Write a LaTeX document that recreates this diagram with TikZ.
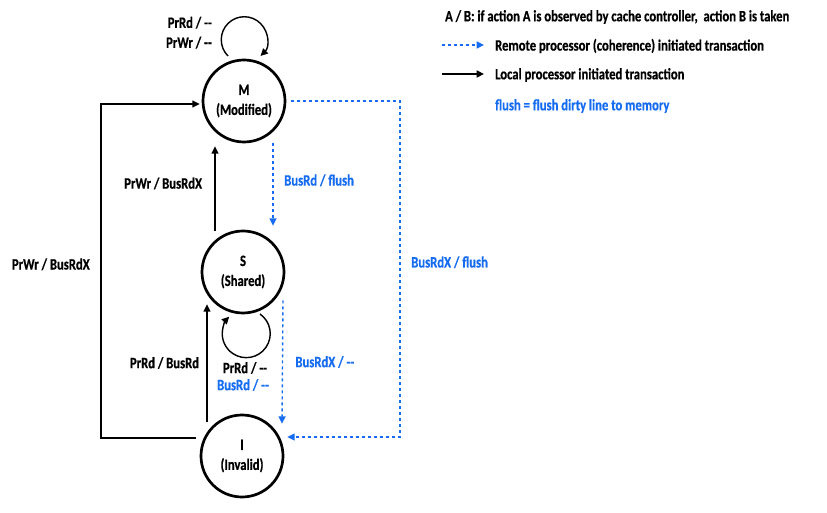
\documentclass[tikz,border=0pt]{standalone}
\usepackage{fontspec}
\setmainfont{Carlito}[FakeStretch=0.8,BoldFeatures={FakeBold=0.6}]
\usetikzlibrary{arrows.meta,calc}

\definecolor{busblue}{RGB}{22,108,240}
\tikzset{
  every node/.style={font=\bfseries\fontsize{13.5}{17}\selectfont},
  state/.style={circle,draw,line width=2.3pt,minimum size=24.6mm,
    inner sep=0pt,align=center},
  local/.style={draw=black,line width=1.2pt,
    -{Triangle[length=2.2mm,width=2.1mm]}},
  remote/.style={draw=busblue,line width=1.2pt,
    dash pattern=on 0.9mm off 0.9mm,
    -{Triangle[length=2.2mm,width=2.1mm]}},
  remotetxt/.style={text=busblue},
}

\begin{document}
\begin{tikzpicture}[x=0.3mm,y=0.3mm]
  \useasboundingbox (0,0) rectangle (827,512);

  % states
  \node[state] (M) at (244,411) {M\\(Modified)};
  \node[state] (S) at (243,240) {S\\(Shared)};
  \node[state] (I) at (242,56) {I\\(Invalid)};

  % self loops
  \draw[local] ([shift={(-16,45)}]M.center)
    arc[start angle=225,end angle=-45,radius=23];
  \node[anchor=east,align=right] (mloop) at ($(M.north)+(-28,26)$)
    {PrRd / {-}{-}\\PrWr / {-}{-}};
  \draw[local] ([shift={(17,-42)}]S.center)
    arc[start angle=55,end angle=-225,radius=24];
  \node (sloopa) at ($(S.center)+(2,-96)$) {PrRd / {-}{-}};
  \node[remotetxt] (sloopb) at ($(S.center)+(0,-113)$) {BusRd / {-}{-}};

  % S <-> M
  \draw[local] ($(S.north)+(-28,-1)$) -- node[pos=0.56,left=2.5mm]
    {PrWr / BusRdX} ($(M.south)+(-29,-3)$);
  \draw[remote] ($(M.south)+(29,0)$) -- node[pos=0.45,right=2mm,remotetxt]
    {BusRd / flush} ($(S.north)+(30,4)$);

  % I <-> S
  \draw[local] ($(I.north)+(-35,-8)$) -- node[left=1mm] {PrRd / BusRd}
    ($(S.south)+(-36,10)$);
  \draw[remote] ($(S.south)+(40,14)$) -- node[right=2.5mm,remotetxt]
    {BusRdX / {-}{-}} ($(I.north)+(40,-10)$);

  % I <-> M
  \coordinate (lft) at (101,408);
  \coordinate (rgt) at (400,75);
  \draw[local] ($(I.west)+(-4,18)$) -| node[pos=0.76,left=2mm]
    {PrWr / BusRdX} (lft) -- ($(lft -| M.west)+(-2,0)$);
  \draw[remote] ($(M.east)+(5,0)$) -| node[pos=0.74,right=2mm,remotetxt]
    {BusRdX / flush} (rgt) -- ($(rgt -| I.east)+(3,0)$);

  % legend
  \node[anchor=west] (key) at (441,495)
    {A / B: if action A is observed by cache controller,\ \ action B is taken};
  \coordinate (ra) at (442,467);
  \coordinate (rb) at (484,467);
  \coordinate (la) at (442,438);
  \coordinate (lb) at (484,438);
  \draw[remote] (ra) -- (rb);
  \draw[local] (la) -- (lb);
  \node[anchor=west] (remtxt) at (491,466)
    {Remote processor (coherence) initiated transaction};
  \node[anchor=west] (loctxt) at (491,437)
    {Local processor initiated transaction};
  \node[anchor=west,remotetxt] (flush) at (491,406)
    {flush = flush dirty line to memory};
\end{tikzpicture}
\end{document}
